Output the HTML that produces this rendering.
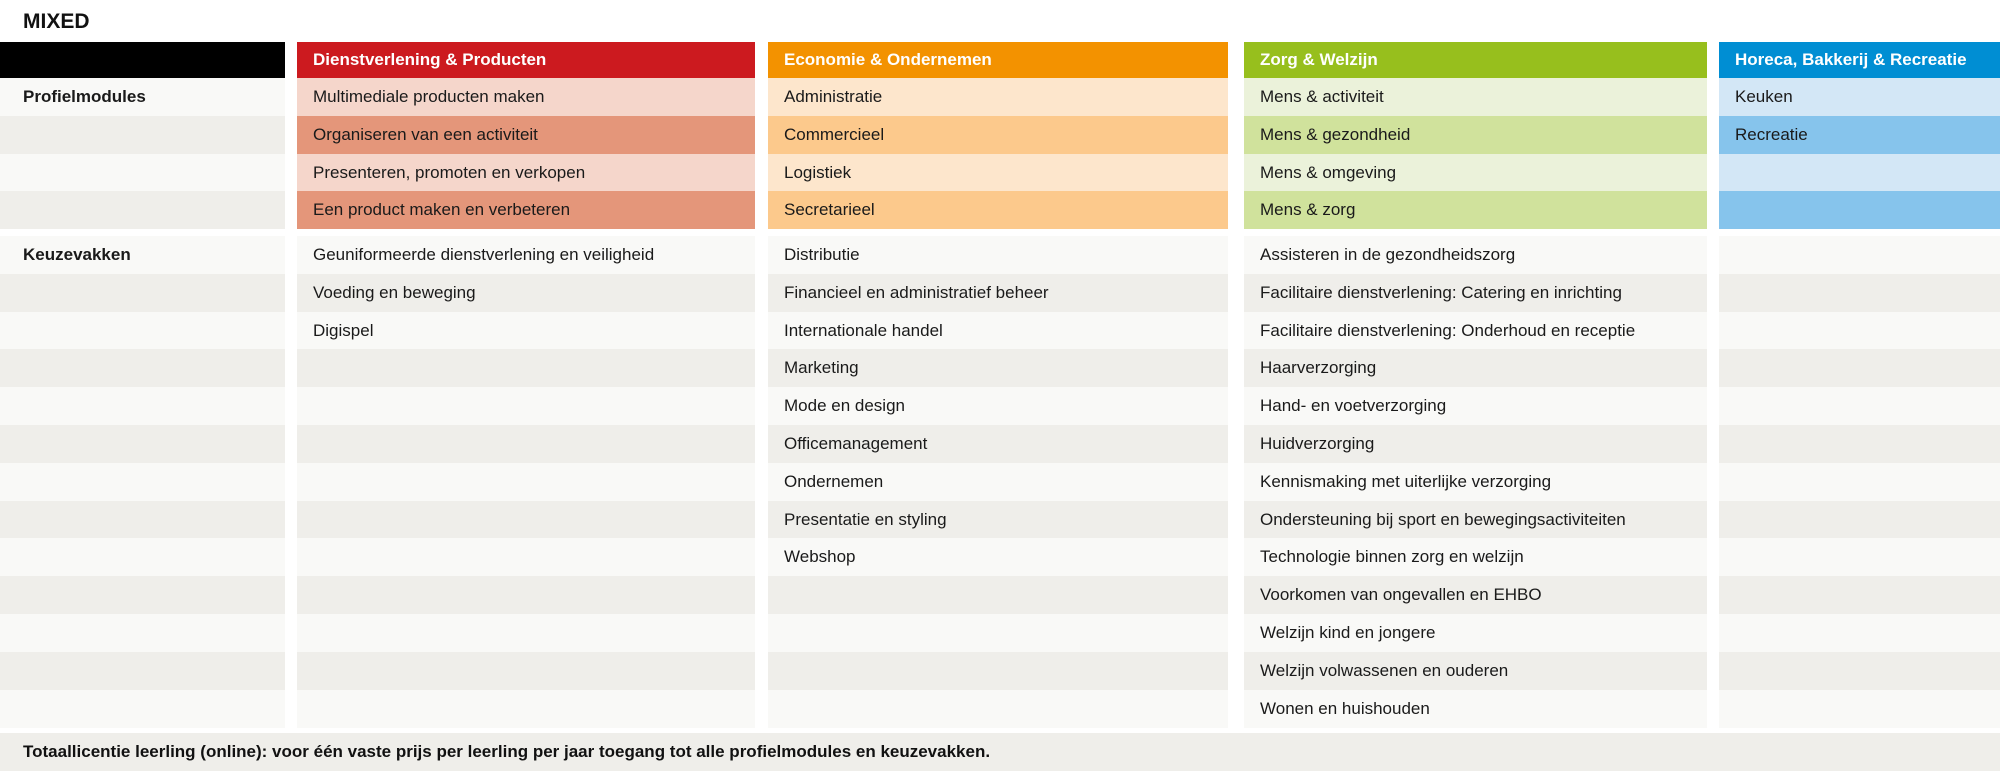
<!DOCTYPE html>
<html><head><meta charset="utf-8"><style>
html,body{margin:0;padding:0;background:#fff;width:2000px;height:777px;overflow:hidden;position:relative;font-family:"Liberation Sans",sans-serif;}
.c{position:absolute;box-sizing:border-box;padding-left:16px;font-size:17px;color:#1a1a1a;white-space:nowrap;display:flex;align-items:center;}
.h{color:#fff;font-weight:bold;font-size:17px;}
#title{position:absolute;left:23px;top:10px;font-size:21px;font-weight:bold;color:#111;}
#footer{position:absolute;left:0;top:733px;width:2000px;height:38px;background:#efeeea;font-weight:bold;font-size:17px;padding-left:23px;box-sizing:border-box;display:flex;align-items:center;color:#111;}
</style></head><body>
<div id="title">MIXED</div>
<div id="footer">Totaallicentie leerling (online): voor één vaste prijs per leerling per jaar toegang tot alle profielmodules en keuzevakken.</div>
<script>
const colX=[0,297,768,1244,1719];
const colW=[285,458,460,463,281];
const headers=["","Dienstverlening & Producten","Economie & Ondernemen","Zorg & Welzijn","Horeca, Bakkerij & Recreatie"];
const headColors=["#000000","#cc1a1f","#f39200","#97bf1d","#008ed3"];
const lightColors=["#f9f9f7","#f5d6cb","#fde6cc","#ebf2da","#d3e7f6"];
const darkColors=["#efeeea","#e4967a","#fcc98c","#d0e29c","#86c4ec"];
const profiel=[
 ["Profielmodules","","",""],
 ["Multimediale producten maken","Organiseren van een activiteit","Presenteren, promoten en verkopen","Een product maken en verbeteren"],
 ["Administratie","Commercieel","Logistiek","Secretarieel"],
 ["Mens & activiteit","Mens & gezondheid","Mens & omgeving","Mens & zorg"],
 ["Keuken","Recreatie","",""]
];
const keuze=[
 ["Keuzevakken"],
 ["Geuniformeerde dienstverlening en veiligheid","Voeding en beweging","Digispel"],
 ["Distributie","Financieel en administratief beheer","Internationale handel","Marketing","Mode en design","Officemanagement","Ondernemen","Presentatie en styling","Webshop"],
 ["Assisteren in de gezondheidszorg","Facilitaire dienstverlening: Catering en inrichting","Facilitaire dienstverlening: Onderhoud en receptie","Haarverzorging","Hand- en voetverzorging","Huidverzorging","Kennismaking met uiterlijke verzorging","Ondersteuning bij sport en bewegingsactiviteiten","Technologie binnen zorg en welzijn","Voorkomen van ongevallen en EHBO","Welzijn kind en jongere","Welzijn volwassenen en ouderen","Wonen en huishouden"],
 []
];
const headTop=42,headH=36,rowH=37.8,profTop=78,keuzeTop=236,keuzeRows=13;
function cell(x,y,w,h,bg,text,cls){
  const d=document.createElement('div');
  d.className='c'+(cls?' '+cls:'');
  d.style.cssText=`left:${x}px;top:${y}px;width:${w}px;height:${h}px;background:${bg};`;
  d.textContent=text;
  document.body.appendChild(d);
  return d;
}
for(let c=0;c<5;c++){
  const hd=cell(colX[c],headTop,colW[c],headH,headColors[c],headers[c],'h');
  
  
  for(let r=0;r<4;r++){
    const bg=(r%2==0)?lightColors[c]:darkColors[c];
    const d=cell(colX[c],profTop+r*rowH,colW[c],Math.ceil(rowH),bg,profiel[c][r]||'');
    if(c==0){d.style.fontWeight='bold';d.style.paddingLeft='23px';}
    
    
  }
  for(let r=0;r<keuzeRows;r++){
    const bg=(r%2==0)?'#f9f9f7':'#efeeea';
    const d=cell(colX[c],keuzeTop+r*rowH,colW[c],Math.ceil(rowH),bg,keuze[c][r]||'');
    if(c==0){d.style.fontWeight='bold';d.style.paddingLeft='23px';}
    
    
  }
}
</script>
</body></html>
